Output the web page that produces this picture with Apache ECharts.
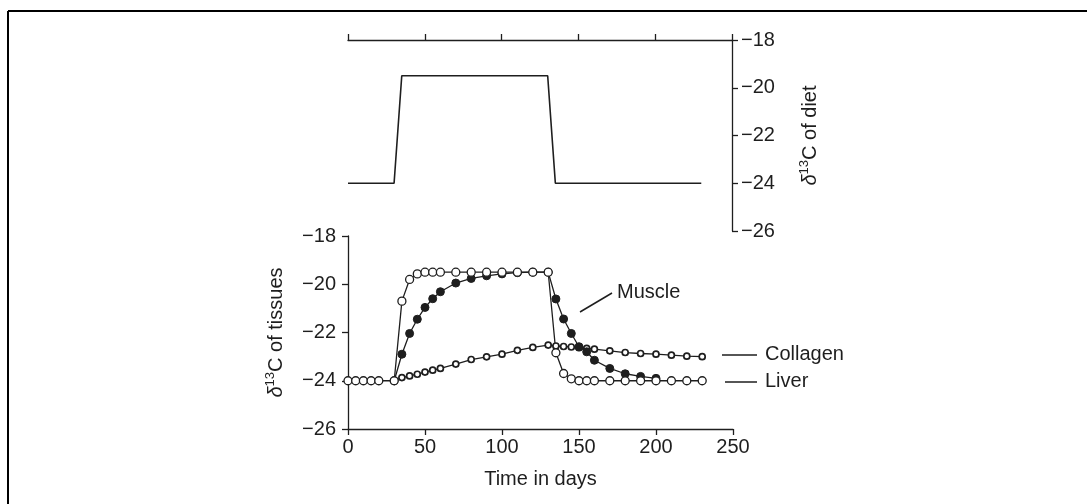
<!DOCTYPE html>
<html>
<head>
<meta charset="utf-8">
<script src="https://cdn.jsdelivr.net/npm/echarts@6/dist/echarts.min.js"></script>
<style>
html,body{margin:0;padding:0;background:#fff;}
#c{width:1087px;height:504px;}
</style>
</head>
<body>
<div id="c"></div>
<script>
// ---- Data ----
const xTicks = [0, 50, 100, 150, 200, 250];
const yTicks = [-26, -24, -22, -20, -18];

const dietDays = [0, 30, 35, 130, 135, 230];
const diet = [-24, -24, -19.5, -19.5, -24, -24];

const liverDays = [0,5,10,15,20,30,35,40,45,50,55,60,70,80,90,100,110,120,130,135,140,145,150,155,160,170,180,190,200,210,220,230];
const liver = [-24,-24,-24,-24,-24,-24,-20.7,-19.8,-19.57,-19.5,-19.5,-19.5,-19.5,-19.5,-19.5,-19.5,-19.5,-19.5,-19.5,-22.84,-23.7,-23.92,-24,-24,-24,-24,-24,-24,-24,-24,-24,-24];

const muscleDays = [30,35,40,45,50,55,60,70,80,90,100,110,120,130,135,140,145,150,155,160,170,180,190,200];
const muscle = [-24,-22.9,-22.04,-21.45,-20.96,-20.6,-20.31,-19.95,-19.76,-19.65,-19.57,-19.52,-19.5,-19.5,-20.61,-21.44,-22.04,-22.59,-22.8,-23.15,-23.49,-23.71,-23.82,-23.9];

const collagenDays = [30,35,40,45,50,55,60,70,80,90,100,110,120,130,135,140,145,150,155,160,170,180,190,200,210,220,230];
const collagen = [-24,-23.87,-23.8,-23.73,-23.64,-23.56,-23.49,-23.31,-23.12,-23.01,-22.9,-22.74,-22.62,-22.52,-22.56,-22.58,-22.6,-22.63,-22.66,-22.69,-22.76,-22.83,-22.87,-22.9,-22.94,-22.98,-23.0];

const seriesNames = ['Muscle', 'Collagen', 'Liver'];

// ---- Chart ----
const FONT = "'Liberation Sans', Arial, sans-serif";
const INK = '#1e1e1e';
const zip = (a, b) => a.map((v, i) => [v, b[i]]);
const minus = v => String(v).replace('-', '\u2212');

const nameRich = {
  d: {fontSize: 20, fontStyle: 'italic', fontFamily: FONT, color: INK, verticalAlign: 'bottom', lineHeight: 26},
  s: {fontSize: 13, fontFamily: FONT, color: INK, verticalAlign: 'bottom', padding: [0, 0, 9, 0], lineHeight: 26},
  t: {fontSize: 20, fontFamily: FONT, color: INK, verticalAlign: 'bottom', lineHeight: 26}
};

const axisCommon = {
  axisLine: {show: true, onZero: false, lineStyle: {color: INK, width: 1.3}},
  axisTick: {show: true, inside: false, length: 6, lineStyle: {color: INK, width: 1.3}},
  splitLine: {show: false},
  axisLabel: {color: INK, fontSize: 20, fontFamily: FONT},
};

const chart = echarts.init(document.getElementById('c'), null, {renderer: 'canvas'});
chart.setOption({
  animation: false,
  backgroundColor: '#fff',
  textStyle: {fontFamily: FONT},
  grid: [
    {left: 348, right: 355, top: 40, height: 191},
    {left: 348, right: 354, top: 236, height: 193}
  ],
  xAxis: [
    Object.assign({}, axisCommon, {
      type: 'value', gridIndex: 0, position: 'top', min: xTicks[0], max: xTicks[xTicks.length - 1], interval: 50,
      axisLabel: {show: false}
    }),
    Object.assign({}, axisCommon, {
      type: 'value', gridIndex: 1, position: 'bottom', min: xTicks[0], max: xTicks[xTicks.length - 1], interval: 50,
      axisLabel: Object.assign({}, axisCommon.axisLabel, {margin: 8}),
      name: 'Time in days', nameLocation: 'middle', nameGap: 40,
      nameTextStyle: {fontSize: 20, color: INK, fontFamily: FONT}
    })
  ],
  yAxis: [
    Object.assign({}, axisCommon, {
      type: 'value', gridIndex: 0, position: 'right', min: yTicks[0], max: yTicks[yTicks.length - 1], interval: 2,
      axisLabel: Object.assign({}, axisCommon.axisLabel, {margin: 9, formatter: minus}),
      name: '{d|\u03b4}{s|13}{t|C of diet}', nameLocation: 'middle', nameGap: 62,
      nameTextStyle: {rich: nameRich}
    }),
    Object.assign({}, axisCommon, {
      type: 'value', gridIndex: 1, position: 'left', min: yTicks[0], max: yTicks[yTicks.length - 1], interval: 2,
      axisLabel: Object.assign({}, axisCommon.axisLabel, {margin: 12, formatter: minus}),
      name: '{d|\u03b4}{s|13}{t|C of tissues}', nameLocation: 'middle', nameGap: 62,
      nameTextStyle: {rich: nameRich}
    })
  ],
  series: [
    {
      name: 'Diet', type: 'line', xAxisIndex: 0, yAxisIndex: 0, data: zip(dietDays, diet),
      symbol: 'none', lineStyle: {color: INK, width: 1.6}
    },
    {
      name: seriesNames[1], type: 'line', xAxisIndex: 1, yAxisIndex: 1, data: zip(collagenDays, collagen),
      symbol: 'circle', symbolSize: 6, showAllSymbol: true,
      itemStyle: {color: '#fff', borderColor: INK, borderWidth: 1.7},
      lineStyle: {color: INK, width: 1.3}
    },
    {
      name: seriesNames[0], type: 'line', xAxisIndex: 1, yAxisIndex: 1, data: zip(muscleDays, muscle),
      symbol: 'circle', symbolSize: 8, showAllSymbol: true,
      itemStyle: {color: INK, borderColor: INK, borderWidth: 1},
      lineStyle: {color: INK, width: 1.3}
    },
    {
      name: seriesNames[2], type: 'line', xAxisIndex: 1, yAxisIndex: 1, data: zip(liverDays, liver),
      symbol: 'circle', symbolSize: 8, showAllSymbol: true,
      itemStyle: {color: '#fff', borderColor: INK, borderWidth: 1.3},
      lineStyle: {color: INK, width: 1.3}
    }
  ],
  graphic: [
    {type: 'line', shape: {x1: 8, y1: 11, x2: 1087, y2: 11}, style: {stroke: '#000', lineWidth: 2}},
    {type: 'line', shape: {x1: 8, y1: 11, x2: 8, y2: 504}, style: {stroke: '#000', lineWidth: 2}},
    {type: 'line', shape: {x1: 580, y1: 312, x2: 612, y2: 293}, style: {stroke: INK, lineWidth: 1.5}},
    {type: 'text', left: 617, top: 282, style: {text: seriesNames[0], fontSize: 20, fontFamily: FONT, fill: INK}},
    {type: 'line', shape: {x1: 722, y1: 355, x2: 757, y2: 355}, style: {stroke: INK, lineWidth: 1.5}},
    {type: 'text', left: 765, top: 344, style: {text: seriesNames[1], fontSize: 20, fontFamily: FONT, fill: INK}},
    {type: 'line', shape: {x1: 725, y1: 382, x2: 757, y2: 382}, style: {stroke: INK, lineWidth: 1.5}},
    {type: 'text', left: 765, top: 371, style: {text: seriesNames[2], fontSize: 20, fontFamily: FONT, fill: INK}}
  ]
});
</script>
</body>
</html>
